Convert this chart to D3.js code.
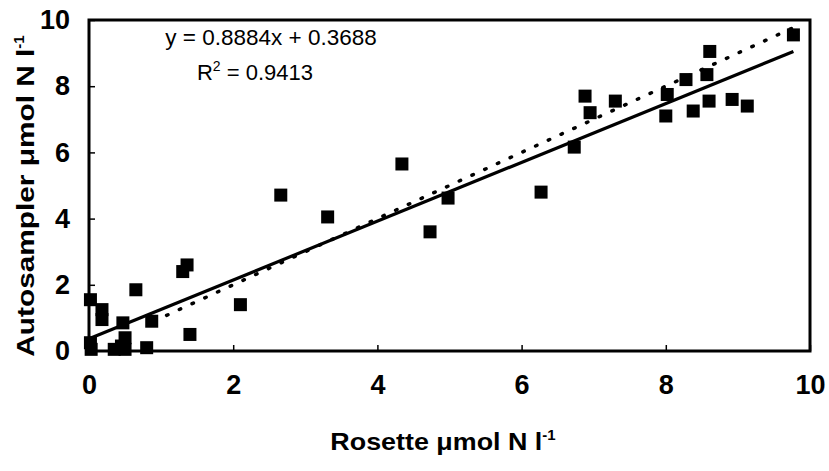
<!DOCTYPE html>
<html><head><meta charset="utf-8">
<script src="https://cdn.jsdelivr.net/npm/d3@7"></script>
<style>
body{margin:0;background:#fff;}
svg{display:block;}
.tick text{font-family:"Liberation Sans Narrow","Liberation Sans",Arial,sans-serif;font-weight:bold;font-size:27px;fill:#000;}
</style></head>
<body>
<script>
const rosette = [0.02,0.02,0.03,0.18,0.18,0.35,0.45,0.47,0.5,0.5,0.65,0.8,0.87,1.3,1.36,1.4,2.1,
  2.66,3.31,4.34,4.73,4.98,6.27,6.73,6.88,6.95,7.3,8.02,8.0,8.28,8.38,8.57,8.61,8.6,8.92,9.13,9.77];
const autosampler = [1.55,0.25,0.05,1.25,0.95,0.05,0.15,0.85,0.4,0.05,1.85,0.1,0.9,2.4,2.6,0.5,1.4,
  4.71,4.05,5.65,3.6,4.62,4.8,6.16,7.7,7.2,7.55,7.75,7.1,8.2,7.25,8.35,9.05,7.55,7.6,7.4,9.55];
const xTicks = [0,2,4,6,8,10];
const yTicks = [0,2,4,6,8,10];
const slope = 0.8884, intercept = 0.3688;
const eqText = "y = 0.8884x + 0.3688";
const r2Text = "0.9413";

const W=829,H=471;
const svg=d3.select("body").append("svg").attr("width",W).attr("height",H);
const x=d3.scaleLinear().domain([0,10]).range([89,810]);
const y=d3.scaleLinear().domain([0,10]).range([351,20]);

const gx=svg.append("g").attr("transform","translate(0,351)").call(d3.axisBottom(x).tickValues(xTicks).tickSize(-6).tickPadding(24).tickFormat(d3.format("d")));
gx.select(".domain").remove();
gx.selectAll(".tick line").attr("stroke","#000").attr("stroke-width",1.5);
const gy=svg.append("g").attr("transform","translate(89,0)").call(d3.axisLeft(y).tickValues(yTicks).tickSize(-6).tickPadding(19).tickFormat(d3.format("d")));
gy.select(".domain").remove();
gy.selectAll(".tick line").attr("stroke","#000").attr("stroke-width",1.5);

svg.append("rect").attr("x",x(0)).attr("y",y(10)).attr("width",x(10)-x(0)).attr("height",y(0)-y(10))
  .attr("fill","none").attr("stroke","#000").attr("stroke-width",3);

const xmax=d3.max(rosette);
svg.append("line").attr("x1",x(0.9)).attr("y1",y(0.9)).attr("x2",x(xmax)).attr("y2",y(xmax))
  .attr("stroke","#000").attr("stroke-width",3.5).attr("stroke-dasharray","1.5,12.5").attr("stroke-linecap","round");
svg.append("line").attr("x1",x(0)).attr("y1",y(intercept)).attr("x2",x(xmax)).attr("y2",y(slope*xmax+intercept))
  .attr("stroke","#000").attr("stroke-width",3.2);

const s=13;
svg.append("g").selectAll("rect").data(rosette.map((d,i)=>[d,autosampler[i]])).join("rect")
  .attr("x",d=>x(d[0])-s/2).attr("y",d=>y(d[1])-s/2).attr("width",s).attr("height",s).attr("fill","#000");

const tf="Liberation Sans, Arial, sans-serif";
svg.append("text").attr("x",271).attr("y",45).attr("text-anchor","middle")
  .style("font-family",tf).style("font-size","22.5px").text(eqText);
const r2=svg.append("text").attr("x",255).attr("y",80).attr("text-anchor","middle")
  .style("font-family",tf).style("font-size","22px");
r2.append("tspan").text("R");
r2.append("tspan").attr("dy",-9).style("font-size","14px").text("2");
r2.append("tspan").attr("dy",9).text(" = "+r2Text);

const xt=svg.append("text").attr("x",443).attr("y",450).attr("text-anchor","middle")
  .style("font-family",tf).style("font-weight","bold").style("font-size","24px");
xt.append("tspan").attr("textLength",212).attr("lengthAdjust","spacingAndGlyphs").text("Rosette μmol N l");
xt.append("tspan").attr("dy",-10).style("font-size","15px").text("-1");
const yt=svg.append("text").attr("transform","translate(34,196) rotate(-90)").attr("text-anchor","middle")
  .style("font-family",tf).style("font-weight","bold").style("font-size","24px");
yt.append("tspan").attr("textLength",308).attr("lengthAdjust","spacingAndGlyphs").text("Autosampler μmol N l");
yt.append("tspan").attr("dy",-10).style("font-size","15px").text("-1");
</script>
</body></html>
